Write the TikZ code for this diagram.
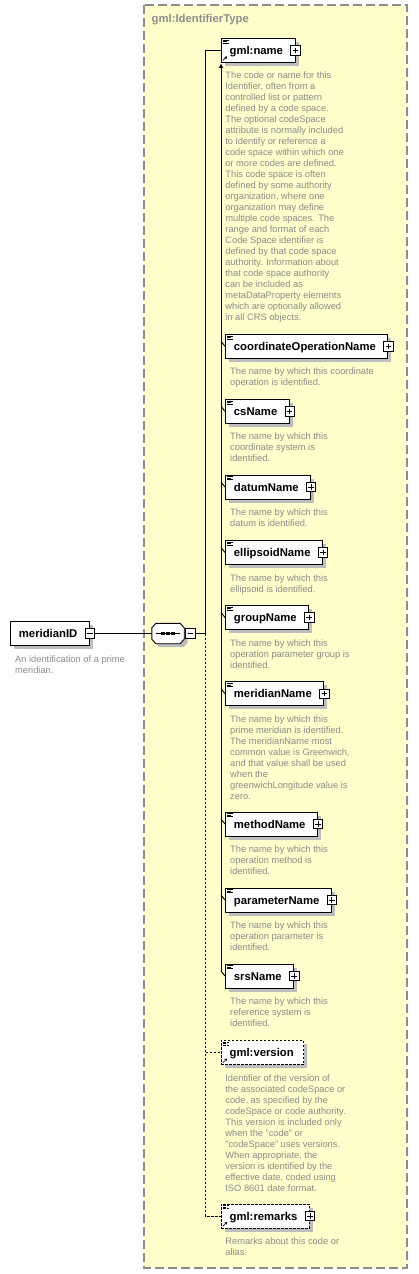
\documentclass[tikz,border=0pt]{standalone}
\usepackage{fontspec}
\setmainfont{Liberation Sans}
\usepackage{tikz}
\usetikzlibrary{arrows.meta,positioning,shadows}
\definecolor{PaneFill}{HTML}{FFFFCC}
\definecolor{PaneEdge}{HTML}{8C8C8C}
\definecolor{DocGray}{HTML}{8A8A8A}
\definecolor{ShadeGray}{HTML}{BDBDBD}

% little marks drawn inside the element boxes
\newcommand{\docmark}{%
  \draw[line width=0.6pt]
    ([shift={(2pt,-1.6pt)}]path picture bounding box.north west) -- ++(5.5pt,0pt)
    ([shift={(2pt,-3.1pt)}]path picture bounding box.north west) -- ++(4pt,0pt)
    ([shift={(2pt,-4.6pt)}]path picture bounding box.north west) -- ++(5.5pt,0pt);}
\newcommand{\refmark}{%
  \draw[black,line width=0.7pt,-{Triangle[length=2.4pt,width=2.6pt]}]
    ([shift={(1.8pt,1.8pt)}]path picture bounding box.south west) -- ++(4.2pt,4.2pt);}

\begin{document}
\begin{tikzpicture}[x=1pt,y=-1pt,
  pane/.style={draw=PaneEdge,fill=PaneFill,line width=1.2pt,dash pattern=on 9pt off 4pt},
  panetitle/.style={anchor=base west,inner sep=0pt,text=PaneEdge,
                    font=\fontsize{11.3}{13}\selectfont\bfseries},
  shade/.style={drop shadow={shadow xshift=3.5pt,shadow yshift=-3.5pt,fill=ShadeGray,opacity=1}},
  box/.style={draw,fill=white,line width=0.9pt,anchor=west,minimum height=24pt,
              inner xsep=8.5pt,inner ysep=0pt,text height=8pt,text depth=0pt,
              font=\fontsize{11.3}{13}\selectfont\bfseries,
              execute at end node={\hspace{3.5pt}},shade},
  elem/.style={box,path picture={\docmark}},
  refelem/.style={box,path picture={\docmark\refmark}},
  optref/.style={refelem,dash pattern=on 2.5pt off 1.5pt},
  doc/.style={anchor=north west,inner sep=0pt,align=left,text=DocGray,
              font=\fontsize{9.3}{11}\selectfont},
  pm/.style={draw,fill=white,line width=0.7pt,minimum size=9.5pt,inner sep=0pt},
  plus/.style={pm,path picture={\draw[line width=0.7pt]
      ([xshift=2pt]path picture bounding box.west) -- ([xshift=-2pt]path picture bounding box.east)
      ([yshift=-2pt]path picture bounding box.north) -- ([yshift=2pt]path picture bounding box.south);}},
  minus/.style={pm,path picture={\draw[line width=0.7pt]
      ([xshift=2pt]path picture bounding box.west) -- ([xshift=-2pt]path picture bounding box.east);}},
  seqbox/.style={rectangle,minimum width=32pt,minimum height=20pt,inner sep=0pt},
  seqline/.style={draw,fill=white,line width=0.9pt,shade},
  link/.style={line width=0.9pt},
  optlink/.style={link,dash pattern=on 2.5pt off 1.5pt},
  subarr/.style={link,-{Triangle[length=4pt,width=4pt]},shorten >=1pt}]
\useasboundingbox (0,0) rectangle (418,1274);
\draw[pane] (144,5) rectangle (407,1268);
\node[panetitle] (ptype) at (151.5,23) {gml:IdentifierType};

% root element and sequence
\node[box] (mid) at (10,633.5) {meridianID};
\node[minus] (mid-m) at (mid.east) {};
\node[doc] (mid-d) at ([shift={(5pt,-8.3pt)}]mid.south west)
  {\strut An identification of a prime\\meridian.};
\node[seqbox] (seq) at (168,633.5) {};
\draw[seqline] ([xshift=4pt]seq.north west) -- ([xshift=-4pt]seq.north east)
  -- ([yshift=-4.5pt]seq.north east) -- ([yshift=4.5pt]seq.south east)
  -- ([xshift=-4pt]seq.south east) -- ([xshift=4pt]seq.south west)
  -- ([yshift=4.5pt]seq.south west) -- ([yshift=-4.5pt]seq.north west) -- cycle;
\draw[line width=1pt] ([xshift=4pt]seq.west) -- ([xshift=-4pt]seq.east);
\foreach \dx in {-5pt,0pt,5pt}
  \fill ([xshift=\dx]seq.center) +(-1.6pt,-1.6pt) rectangle +(1.6pt,1.6pt);
\node[minus,anchor=west] (seq-m) at ([xshift=1pt]seq.east) {};

% children
\node[refelem] (name) at (220.7,50.3) {gml:name};
\node[plus] (name-p) at (name.east) {};
\node[doc] (name-d) at ([shift={(4.5pt,-8.3pt)}]name.south west)
  {\strut The code or name for this\\Identifier, often from a\\controlled list or pattern\\
   defined by a code space.\\The optional codeSpace\\attribute is normally included\\
   to identify or reference a\\code space within which one\\or more codes are defined.\\
   This code space is often\\defined by some authority\\organization, where one\\
   organization may define\\multiple code spaces. The\\range and format of each\\
   Code Space identifier is\\defined by that code space\\authority. Information about\\
   that code space authority\\can be included as\\metaDataProperty elements\\
   which are optionally allowed\\in all CRS objects.};

\node[elem] (con) at (225,346.3) {coordinateOperationName};
\node[plus] (con-p) at (con.east) {};
\node[doc] (con-d) at ([shift={(5pt,-8.3pt)}]con.south west)
  {\strut The name by which this coordinate\\operation is identified.};

\node[elem] (csn) at (225,411.3) {csName};
\node[plus] (csn-p) at (csn.east) {};
\node[doc] (csn-d) at ([shift={(5pt,-8.3pt)}]csn.south west)
  {\strut The name by which this\\coordinate system is\\identified.};

\node[elem] (dat) at (225,487) {datumName};
\node[plus] (dat-p) at (dat.east) {};
\node[doc] (dat-d) at ([shift={(5pt,-8.3pt)}]dat.south west)
  {\strut The name by which this\\datum is identified.};

\node[elem] (ell) at (225,552.5) {ellipsoidName};
\node[plus] (ell-p) at (ell.east) {};
\node[doc] (ell-d) at ([shift={(5pt,-8.3pt)}]ell.south west)
  {\strut The name by which this\\ellipsoid is identified.};

\node[elem] (grp) at (225,617.5) {groupName};
\node[plus] (grp-p) at (grp.east) {};
\node[doc] (grp-d) at ([shift={(5pt,-8.3pt)}]grp.south west)
  {\strut The name by which this\\operation parameter group is\\identified.};

\node[elem] (mer) at (225,693.7) {meridianName};
\node[plus] (mer-p) at (mer.east) {};
\node[doc] (mer-d) at ([shift={(5pt,-8.3pt)}]mer.south west)
  {\strut The name by which this\\prime meridian is identified.\\The meridianName most\\
   common value is Greenwich,\\and that value shall be used\\when the\\
   greenwichLongitude value is\\zero.};

\node[elem] (mth) at (225,824) {methodName};
\node[plus] (mth-p) at (mth.east) {};
\node[doc] (mth-d) at ([shift={(5pt,-8.3pt)}]mth.south west)
  {\strut The name by which this\\operation method is\\identified.};

\node[elem] (par) at (225,900) {parameterName};
\node[plus] (par-p) at (par.east) {};
\node[doc] (par-d) at ([shift={(5pt,-8.3pt)}]par.south west)
  {\strut The name by which this\\operation parameter is\\identified.};

\node[elem] (srs) at (225,976) {srsName};
\node[plus] (srs-p) at (srs.east) {};
\node[doc] (srs-d) at ([shift={(5pt,-8.3pt)}]srs.south west)
  {\strut The name by which this\\reference system is\\identified.};

\node[optref,execute at end node={\hspace{-2pt}}] (ver) at (220.7,1052.5) {gml:version};
\node[doc] (ver-d) at ([shift={(4.5pt,-8.3pt)}]ver.south west)
  {\strut Identifier of the version of\\the associated codeSpace or\\code, as specified by the\\
   codeSpace or code authority.\\This version is included only\\when the "code" or\\
   "codeSpace" uses versions.\\When appropriate, the\\version is identified by the\\
   effective date, coded using\\ISO 8601 date format.};

\node[optref] (rem) at (220.7,1216) {gml:remarks};
\node[plus] (rem-p) at (rem.east) {};
\node[doc] (rem-d) at ([shift={(4.5pt,-8.3pt)}]rem.south west)
  {\strut Remarks about this code or\\alias.};

% connectors
\coordinate (jn) at (205.5,633.5);
\draw[link] (mid-m) -- (seq);
\draw[link] (seq-m) -- (jn) |- (name);
\draw[optlink] (jn) |- (rem);
\draw[optlink] (ver.west -| jn) -- (ver);
\foreach \m in {con,csn,dat,ell,grp,mer,mth,par,srs}
  \draw[link] ([shift={(-4pt,5pt)}]\m.west) -- (\m.west);
\coordinate (srs-t) at ([shift={(-4pt,5pt)}]srs.west);
\draw[subarr] (srs-t) -- (srs-t |- name.south);
\end{tikzpicture}
\end{document}
